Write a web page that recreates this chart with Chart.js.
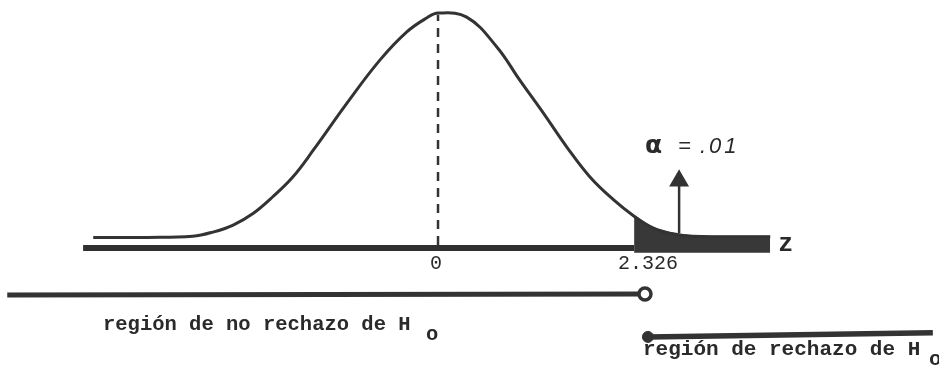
<!DOCTYPE html>
<html>
<head>
<meta charset="utf-8">
<script src="https://cdn.jsdelivr.net/npm/chart.js@4.4.1/dist/chart.umd.min.js"></script>
<style>
  html, body { margin: 0; padding: 0; background: #ffffff; }
  canvas { display: block; }
</style>
</head>
<body>
<canvas id="c" width="939" height="366"></canvas>
<script>
// ---- data ----
const curveZ       = [-4.09, -3.45, -2.91, -2.67, -2.43, -2.19, -1.96, -1.72, -1.48, -1.08, -0.69, -0.37, -0.13, 0, 0.34, 0.70, 0.97, 1.25, 1.53, 1.80, 2.08, 2.326, 2.55, 2.75, 3.02, 3.94];
const curveDensity = [0.018, 0.018, 0.020, 0.027, 0.039, 0.059, 0.087, 0.121, 0.166, 0.246, 0.319, 0.367, 0.391, 0.399, 0.392, 0.341, 0.285, 0.229, 0.171, 0.121, 0.082, 0.054, 0.034, 0.025, 0.020, 0.019];
const criticalZ    = 2.326;
const tickValues   = [0, 2.326];
const tickLabels   = ['0', '2.326'];
const axisName     = 'z';
const alphaSymbol  = 'α';
const alphaValue   = '.01';
const axisZ        = [-4.21, 2.326];
const acceptZ      = [-5.11, 2.455];
const acceptLevel  = [-0.080, -0.078];
const rejectZ      = [2.49, 5.87];
const rejectLevel  = [-0.151, -0.144];
const arrowZ       = 2.86;
const arrowLevels  = [0.025, 0.114];
const acceptText   = 'región de no rechazo de H';
const rejectText   = 'región de rechazo de H';
const subscript    = 'o';

const INK = '#333333';
const pts = (xs, ys) => xs.map((x, i) => ({ x: x, y: ys[i] }));
const tailPts = pts(curveZ, curveDensity).filter(p => p.x >= criticalZ);

const labelsPlugin = {
  id: 'labels',
  afterDatasetsDraw(chart) {
    const ctx = chart.ctx;
    const xs = chart.scales.x;
    ctx.save();
    ctx.fillStyle = '#2a2a2a';
    ctx.textBaseline = 'alphabetic';
    // tick labels
    ctx.font = '20px "Liberation Mono", monospace';
    ctx.textAlign = 'center';
    tickValues.forEach((v, i) => {
      const off = i === 0 ? -2 : 14;
      ctx.fillText(tickLabels[i], xs.getPixelForValue(v) + off, 269);
    });
    // axis name
    ctx.font = 'bold 25px "Liberation Mono", monospace';
    ctx.textAlign = 'left';
    ctx.fillText(axisName, xs.getPixelForValue(curveZ[curveZ.length - 1]) + 8, 251);
    // alpha annotation
    ctx.font = 'bold 25px "DejaVu Sans", sans-serif';
    ctx.fillText(alphaSymbol, 645, 153);
    ctx.font = 'italic 22px "Liberation Sans", sans-serif';
    ctx.fillText('=', 678, 153);
    ctx.letterSpacing = '3px';
    ctx.fillText(alphaValue, 700, 153);
    ctx.letterSpacing = '0px';
    // region labels
    ctx.font = 'bold 20.5px "Liberation Mono", monospace';
    ctx.fillText(acceptText, 103, 330);
    ctx.fillText(subscript, 426, 340);
    ctx.font = 'bold 21px "Liberation Mono", monospace';
    ctx.fillText(rejectText, 643, 355);
    ctx.fillText(subscript, 929, 365);
    ctx.restore();
  }
};

new Chart(document.getElementById('c'), {
  type: 'line',
  data: {
    datasets: [
      { // curve
        data: pts(curveZ, curveDensity),
        borderColor: INK, borderWidth: 3, pointRadius: 0,
        tension: 0.4, fill: false, order: 1
      },
      { // shaded rejection tail
        data: tailPts,
        borderColor: '#2e2e2e', borderWidth: 2, pointRadius: 0,
        backgroundColor: '#383838',
        tension: 0.4, fill: { value: -0.008 }, order: 2
      },
      { // horizontal axis
        data: pts(axisZ, [0, 0]),
        borderColor: '#2f2f2f', borderWidth: 6, pointRadius: 0, order: 3
      },
      { // dashed line at the mean
        data: pts([0, 0], [0.005, 0.396]),
        borderColor: INK, borderWidth: 2.5, borderDash: [9, 7], pointRadius: 0, order: 4
      },
      { // arrow pointing at alpha
        data: pts([arrowZ, arrowZ], arrowLevels),
        borderColor: INK, borderWidth: 2.5,
        pointStyle: 'triangle', pointRadius: [0, 9],
        pointBackgroundColor: INK, pointBorderColor: INK, order: 0
      },
      { // non-rejection region bar
        data: pts(acceptZ, acceptLevel),
        borderColor: '#333333', borderWidth: 5,
        pointStyle: 'circle', pointRadius: [0, 6], pointBorderWidth: 3.5,
        pointBackgroundColor: '#ffffff', pointBorderColor: '#333333', order: 0
      },
      { // rejection region bar
        data: pts(rejectZ, rejectLevel),
        borderColor: '#333333', borderWidth: 5.5,
        pointStyle: 'circle', pointRadius: [5.5, 0], pointBorderWidth: 1,
        pointBackgroundColor: '#333333', pointBorderColor: '#333333', order: 0
      }
    ]
  },
  options: {
    responsive: false,
    animation: false,
    devicePixelRatio: 1,
    layout: { padding: 0, autoPadding: false },
    plugins: { legend: { display: false }, tooltip: { enabled: false } },
    scales: {
      x: { type: 'linear', display: false, min: -5.196, max: 5.943 },
      y: { type: 'linear', display: false, min: -0.2004, max: 0.4211 }
    }
  },
  plugins: [labelsPlugin]
});
</script>
</body>
</html>
